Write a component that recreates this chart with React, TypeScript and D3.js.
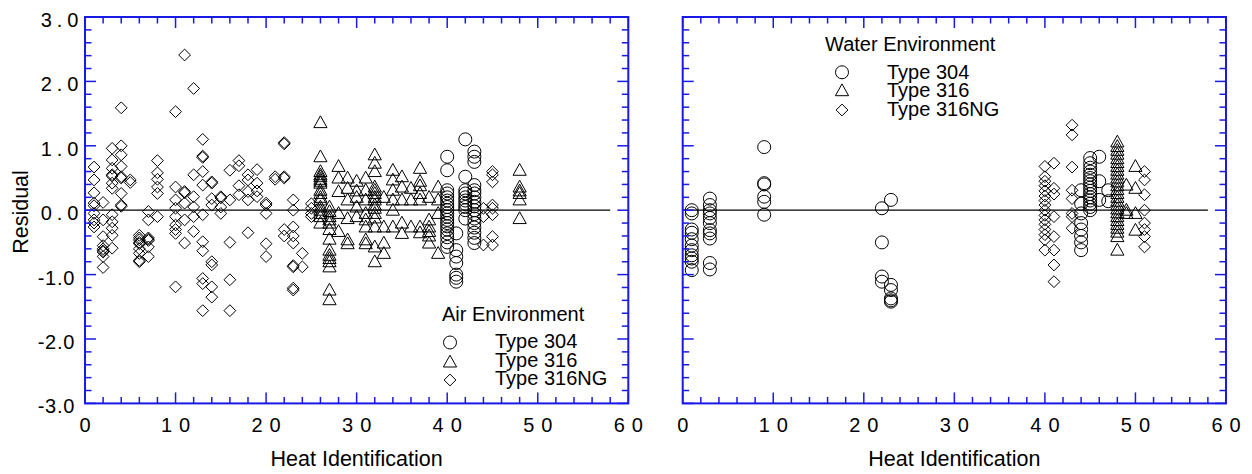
import React from 'react';
import * as d3 from 'd3';

// ---------- tick labels / legend text ----------
const xTicks = [0, 10, 20, 30, 40, 50, 60];
const xTickLabels = ['0', '10', '20', '30', '40', '50', '60'];
const yTicks = [3, 2, 1, 0, -1, -2, -3];
const yTickLabels = ['3.0', '2.0', '1.0', '0.0', '-1.0', '-2.0', '-3.0'];
const legendLabels = ['Type 304', 'Type 316', 'Type 316NG'];
const panelTitles = ['Air Environment', 'Water Environment'];

// ---------- data: [heat id, residual] ----------
const air304: [number, number][] = [
  [40, 0.83], [40, 0.62], [40, 0.31], [40, 0.26], [40, 0.2], [40, 0.15], [40, 0.1], [40, 0.05], [40, 0.0],
  [40, -0.05], [40, -0.1], [40, -0.15], [40, -0.2], [40, -0.25], [40, -0.3], [40, -0.36], [40, -0.42],
  [40, -0.5], [40, -0.57],
  [41, -0.36], [41, -0.62], [41, -0.72], [41, -0.82], [41, -1.0], [41, -1.05], [41, -1.11],
  [42, 1.1], [42, 0.52], [42, 0.31], [42, 0.26], [42, 0.2], [42, 0.15], [42, 0.1], [42, 0.05], [42, 0.0], [42, -0.13],
  [43, 0.91], [43, 0.83], [43, 0.75], [43, 0.39], [43, 0.31], [43, 0.26], [43, 0.2], [43, 0.13], [43, 0.06],
  [43, 0.0], [43, -0.06], [43, -0.13], [43, -0.2], [43, -0.27], [43, -0.35], [43, -0.43], [43, -0.51],
];

const air316: [number, number][] = [
  [26, 1.36], [26, 0.83], [26, 0.6], [26, 0.55], [26, 0.52], [26, 0.48], [26, 0.45], [26, 0.42], [26, 0.31],
  [26, 0.26], [26, 0.2], [26, 0.16], [26, 0.05], [26, 0.0], [26, -0.05], [26, -0.1], [26, -0.2],
  [27, 0.05], [27, -0.02], [27, -0.1], [27, -0.15], [27, -0.2], [27, -0.3], [27, -0.45], [27, -0.62],
  [27, -0.7], [27, -0.75], [27, -0.8], [27, -0.88], [27, -1.24], [27, -1.39],
  [28, 0.68], [28, 0.5], [28, 0.29], [28, -0.05], [28, -0.33],
  [29, 0.5], [29, 0.34], [29, 0.16], [29, -0.13], [29, -0.46], [29, -0.52],
  [30, 0.45], [30, 0.3], [30, 0.2], [30, 0.05], [30, -0.1],
  [31, 0.5], [31, 0.31], [31, 0.16], [31, -0.05], [31, -0.15], [31, -0.26], [31, -0.46], [31, -0.52],
  [32, 0.86], [32, 0.73], [32, 0.6], [32, 0.36], [32, 0.31], [32, 0.26], [32, 0.2], [32, 0.16], [32, 0.08],
  [32, 0.03], [32, -0.05], [32, -0.12], [32, -0.26], [32, -0.57], [32, -0.8],
  [33, 0.2], [33, -0.26], [33, -0.51], [33, -0.67],
  [34, 0.62], [34, 0.47], [34, 0.31], [34, 0.16], [34, 0.0], [34, -0.26],
  [35, 0.52], [35, 0.36], [35, 0.16], [35, -0.2], [35, -0.36],
  [36, 0.34], [36, 0.16], [36, -0.26],
  [37, 0.65], [37, 0.45], [37, 0.38], [37, 0.26], [37, 0.16], [37, -0.26], [37, -0.35],
  [38, 0.2], [38, -0.15], [38, -0.26], [38, -0.33], [38, -0.4], [38, -0.51],
  [39, 0.36], [39, 0.16], [39, -0.05], [39, -0.67],
  [48, 0.62], [48, 0.36], [48, 0.3], [48, 0.26], [48, 0.16], [48, -0.13],
];

const air316NG: [number, number][] = [
  [1, 0.67], [1, 0.47], [1, 0.27], [1, 0.11], [1, 0.07], [1, -0.05], [1, -0.15], [1, -0.2], [1, -0.26],
  [2, 0.12], [2, -0.15], [2, -0.41], [2, -0.55], [2, -0.6], [2, -0.63], [2, -0.65], [2, -0.72], [2, -0.89],
  [3, 0.96], [3, 0.78], [3, 0.65], [3, 0.55], [3, 0.53], [3, 0.42], [3, 0.34], [3, -0.07], [3, -0.18],
  [3, -0.28], [3, -0.39], [3, -0.59],
  [4, 1.59], [4, 1.0], [4, 0.86], [4, 0.68], [4, 0.52], [4, 0.5], [4, 0.26], [4, 0.08], [4, 0.06],
  [5, 0.47], [5, 0.43],
  [6, -0.39], [6, -0.43], [6, -0.46], [6, -0.5], [6, -0.52], [6, -0.6], [6, -0.67], [6, -0.78], [6, -0.8],
  [7, -0.02], [7, -0.15], [7, -0.43], [7, -0.45], [7, -0.47], [7, -0.57], [7, -0.72],
  [8, 0.77], [8, 0.58], [8, 0.48], [8, 0.36], [8, 0.26], [8, -0.1],
  [10, 1.53], [10, 0.36], [10, 0.16], [10, 0.03], [10, -0.1], [10, -0.23], [10, -0.3], [10, -0.36], [10, -1.19],
  [11, 2.41], [11, 0.29], [11, 0.27], [11, 0.11], [11, -0.15], [11, -0.51],
  [12, 1.89], [12, 0.55], [12, 0.21], [12, 0.05], [12, -0.1], [12, -0.33],
  [13, 1.1], [13, 0.84], [13, 0.82], [13, 0.6], [13, 0.39], [13, -0.07], [13, -0.49], [13, -0.63],
  [13, -1.06], [13, -1.14], [13, -1.56],
  [14, 0.44], [14, 0.42], [14, 0.18], [14, 0.08], [14, -0.8], [14, -0.85], [14, -1.19], [14, -1.35],
  [15, 0.21], [15, 0.19], [15, 0.05], [15, -0.05],
  [16, 0.62], [16, 0.16], [16, -0.5], [16, -1.08], [16, -1.56],
  [17, 0.77], [17, 0.69], [17, 0.38], [17, 0.24],
  [18, 0.55], [18, 0.47], [18, 0.29], [18, 0.16], [18, -0.35],
  [19, 0.63], [19, 0.42], [19, 0.3], [19, 0.21],
  [20, 0.11], [20, 0.08], [20, -0.05], [20, -0.52], [20, -0.72],
  [21, 0.52], [21, 0.48],
  [22, 1.05], [22, 1.03], [22, 0.52], [22, 0.5], [22, -0.3], [22, -0.4],
  [23, 0.16], [23, 0.0], [23, -0.26], [23, -0.4], [23, -0.51], [23, -0.86], [23, -0.88], [23, -1.21], [23, -1.24],
  [24, -0.67], [24, -0.88],
  [25, 0.1], [25, 0.03], [25, -0.05], [25, -0.1],
  [44, 0.03], [44, -0.1], [44, -0.54],
  [45, 0.6], [45, 0.55], [45, 0.44], [45, 0.08], [45, 0.03], [45, -0.07], [45, -0.41], [45, -0.54],
];

const water304: [number, number][] = [
  [1, 0.0], [1, -0.05], [1, -0.3], [1, -0.35], [1, -0.45], [1, -0.55], [1, -0.62], [1, -0.7], [1, -0.75],
  [1, -0.8], [1, -0.93],
  [3, 0.18], [3, 0.08], [3, 0.0], [3, -0.05], [3, -0.12], [3, -0.2], [3, -0.31], [3, -0.36], [3, -0.44],
  [3, -0.82], [3, -0.92],
  [9, 0.98], [9, 0.42], [9, 0.4], [9, 0.21], [9, 0.13], [9, -0.07],
  [22, 0.03], [22, -0.5], [22, -1.03], [22, -1.11],
  [23, 0.16], [23, -1.16], [23, -1.24], [23, -1.37], [23, -1.4], [23, -1.42],
  [44, 0.31], [44, 0.1], [44, -0.05], [44, -0.2], [44, -0.3], [44, -0.4], [44, -0.5], [44, -0.62],
  [45, 0.81], [45, 0.73], [45, 0.66], [45, 0.6], [45, 0.55], [45, 0.5], [45, 0.45], [45, 0.4], [45, 0.35],
  [45, 0.3], [45, 0.25], [45, 0.2], [45, 0.15], [45, 0.1], [45, 0.05], [45, 0.0],
  [46, 0.83], [46, 0.45], [46, 0.16],
  [47, 0.31], [47, 0.14],
];

const water316: [number, number][] = [
  [48, 1.06], [48, 0.99], [48, 0.93], [48, 0.87], [48, 0.8], [48, 0.74], [48, 0.68], [48, 0.62], [48, 0.56],
  [48, 0.5], [48, 0.44], [48, 0.38], [48, 0.32], [48, 0.26], [48, 0.2], [48, 0.14], [48, 0.08], [48, 0.02],
  [48, -0.04], [48, -0.1], [48, -0.16], [48, -0.22], [48, -0.28], [48, -0.34], [48, -0.41], [48, -0.62],
  [49, 0.39], [49, 0.0], [49, -0.05],
  [50, 0.68], [50, 0.34], [50, -0.05], [50, -0.31],
];

const water316NG: [number, number][] = [
  [40, 0.68], [40, 0.52], [40, 0.45], [40, 0.38], [40, 0.3], [40, 0.22], [40, 0.15], [40, 0.08], [40, 0.0],
  [40, -0.08], [40, -0.15], [40, -0.22], [40, -0.3], [40, -0.38], [40, -0.46], [40, -0.62],
  [41, 0.73], [41, 0.34], [41, 0.25], [41, -0.1], [41, -0.41], [41, -0.62], [41, -0.85], [41, -1.11],
  [43, 1.32], [43, 1.17], [43, 0.67], [43, 0.31], [43, 0.18], [43, -0.05], [43, -0.1], [43, -0.28],
  [51, 0.6], [51, 0.47], [51, 0.24], [51, 0.0], [51, -0.2], [51, -0.3], [51, -0.41], [51, -0.57],
];

// ---------- layout ----------
const W = 1252;
const H = 474;
const TOP = 17;
const BOTTOM = 403.4;
const PLOT_W = 543.3;
const AXIS_BLUE = '#1a1ae6';
const FONT = 'Liberation Sans, Arial, Helvetica, sans-serif';
const TICK_FS = 20;
const LEG_FS = 20;

type Shape = 'circle' | 'triangle' | 'diamond';

function markerPath(shape: Shape, cx: number, cy: number): string {
  const p = d3.path();
  if (shape === 'circle') {
    const r = 6.5;
    p.moveTo(cx + r, cy);
    p.arc(cx, cy, r, 0, Math.PI * 2);
  } else if (shape === 'triangle') {
    p.moveTo(cx, cy - 6.8);
    p.lineTo(cx + 6.6, cy + 5);
    p.lineTo(cx - 6.6, cy + 5);
    p.closePath();
  } else {
    const r = 5.9;
    p.moveTo(cx, cy - r);
    p.lineTo(cx + r, cy);
    p.lineTo(cx, cy + r);
    p.lineTo(cx - r, cy);
    p.closePath();
  }
  return p.toString();
}

interface PanelProps {
  x0: number;
  series: { data: [number, number][]; shape: Shape }[];
  showYLabels: boolean;
  legend: { titleX: number; titleY: number; symX: number; symYs: number[]; labelX: number; labelYs: number[]; title: string };
}

function Panel({ x0, series, showYLabels, legend }: PanelProps) {
  const x = d3.scaleLinear().domain([0, 60]).range([x0, x0 + PLOT_W]);
  const y = d3.scaleLinear().domain([-3, 3]).range([BOTTOM, TOP]);
  const xMinor = d3.range(0, 60.001, 2);
  const yMinor = d3.range(-3, 3.001, 0.2);
  const isMajorX = (v: number) => Math.abs(v / 10 - Math.round(v / 10)) < 1e-6;
  const isMajorY = (v: number) => Math.abs(v - Math.round(v)) < 1e-6;
  const shapes: Shape[] = ['circle', 'triangle', 'diamond'];
  const xLS = 7;

  return (
    <g>
      {/* zero line */}
      <line x1={x(0)} x2={x(58)} y1={y(0)} y2={y(0)} stroke="#000" strokeWidth={1.3} />

      {/* data */}
      {series.map((s, si) => (
        <g key={si}>
          {s.data.map((d, i) => (
            <path key={i} d={markerPath(s.shape, x(d[0]), y(d[1]))} fill="none" stroke="#000" strokeWidth={1} />
          ))}
        </g>
      ))}

      {/* frame */}
      <rect x={x(0)} y={TOP} width={PLOT_W} height={BOTTOM - TOP} fill="none" stroke={AXIS_BLUE} strokeWidth={2} />
      {xMinor.map((v, i) => {
        const len = isMajorX(v) ? 11 : 6.5;
        return (
          <g key={'xt' + i}>
            <line x1={x(v)} x2={x(v)} y1={BOTTOM} y2={BOTTOM - len} stroke={AXIS_BLUE} strokeWidth={1.5} />
            <line x1={x(v)} x2={x(v)} y1={TOP} y2={TOP + len} stroke={AXIS_BLUE} strokeWidth={1.5} />
          </g>
        );
      })}
      {yMinor.map((v, i) => {
        const len = isMajorY(v) ? 11 : 6.5;
        return (
          <g key={'yt' + i}>
            <line x1={x(0)} x2={x(0) + len} y1={y(v)} y2={y(v)} stroke={AXIS_BLUE} strokeWidth={1.5} />
            <line x1={x(60)} x2={x(60) - len} y1={y(v)} y2={y(v)} stroke={AXIS_BLUE} strokeWidth={1.5} />
          </g>
        );
      })}

      {/* x tick labels */}
      {xTicks.map((v, i) => (
        <text key={'xl' + i} x={x(v) + xLS / 2} y={432} textAnchor="middle" fontFamily={FONT} fontSize={TICK_FS}
          letterSpacing={xLS} fill="#000">{xTickLabels[i]}</text>
      ))}

      {/* y tick labels */}
      {showYLabels && yTicks.map((v, i) => {
        const neg = v < 0;
        const ls = neg ? 0.8 : 5;
        return (
          <text key={'yl' + i} x={(neg ? 74.5 : 78.5) + ls} y={y(v) + 10} textAnchor="end" fontFamily={FONT}
            fontSize={TICK_FS} letterSpacing={ls} fill="#000">{yTickLabels[i]}</text>
        );
      })}

      {/* x title */}
      <text x={x(30)} y={466} textAnchor="middle" fontFamily={FONT} fontSize={21.5} fill="#000">Heat Identification</text>

      {/* legend */}
      <text x={legend.titleX} y={legend.titleY} fontFamily={FONT} fontSize={LEG_FS} fill="#000">{legend.title}</text>
      {legendLabels.map((lab, i) => (
        <g key={'lg' + i}>
          <path d={markerPath(shapes[i], legend.symX, legend.symYs[i])} fill="none" stroke="#000" strokeWidth={1} />
          <text x={legend.labelX} y={legend.labelYs[i]} fontFamily={FONT} fontSize={LEG_FS} fill="#000">{lab}</text>
        </g>
      ))}
    </g>
  );
}

export default function App() {
  return (
    <svg width={W} height={H} viewBox={`0 0 ${W} ${H}`} style={{ display: 'block', position: 'absolute', left: 0, top: 0, background: '#fff' }}>
      <rect x={0} y={0} width={W} height={H} fill="#fff" />
      <text transform={`translate(28,212) rotate(-90)`} textAnchor="middle" fontFamily={FONT} fontSize={21.5} fill="#000">Residual</text>
      <Panel
        x0={85}
        showYLabels={true}
        series={[
          { data: air316NG, shape: 'diamond' },
          { data: air316, shape: 'triangle' },
          { data: air304, shape: 'circle' },
        ]}
        legend={{ title: panelTitles[0], titleX: 442, titleY: 320.5, symX: 450, symYs: [342.5, 362, 380], labelX: 495, labelYs: [348, 366.5, 385] }}
      />
      <Panel
        x0={682.7}
        showYLabels={false}
        series={[
          { data: water316NG, shape: 'diamond' },
          { data: water316, shape: 'triangle' },
          { data: water304, shape: 'circle' },
        ]}
        legend={{ title: panelTitles[1], titleX: 825, titleY: 50.5, symX: 842, symYs: [72.3, 90.7, 110], labelX: 887, labelYs: [78.5, 97, 115.5] }}
      />
    </svg>
  );
}
